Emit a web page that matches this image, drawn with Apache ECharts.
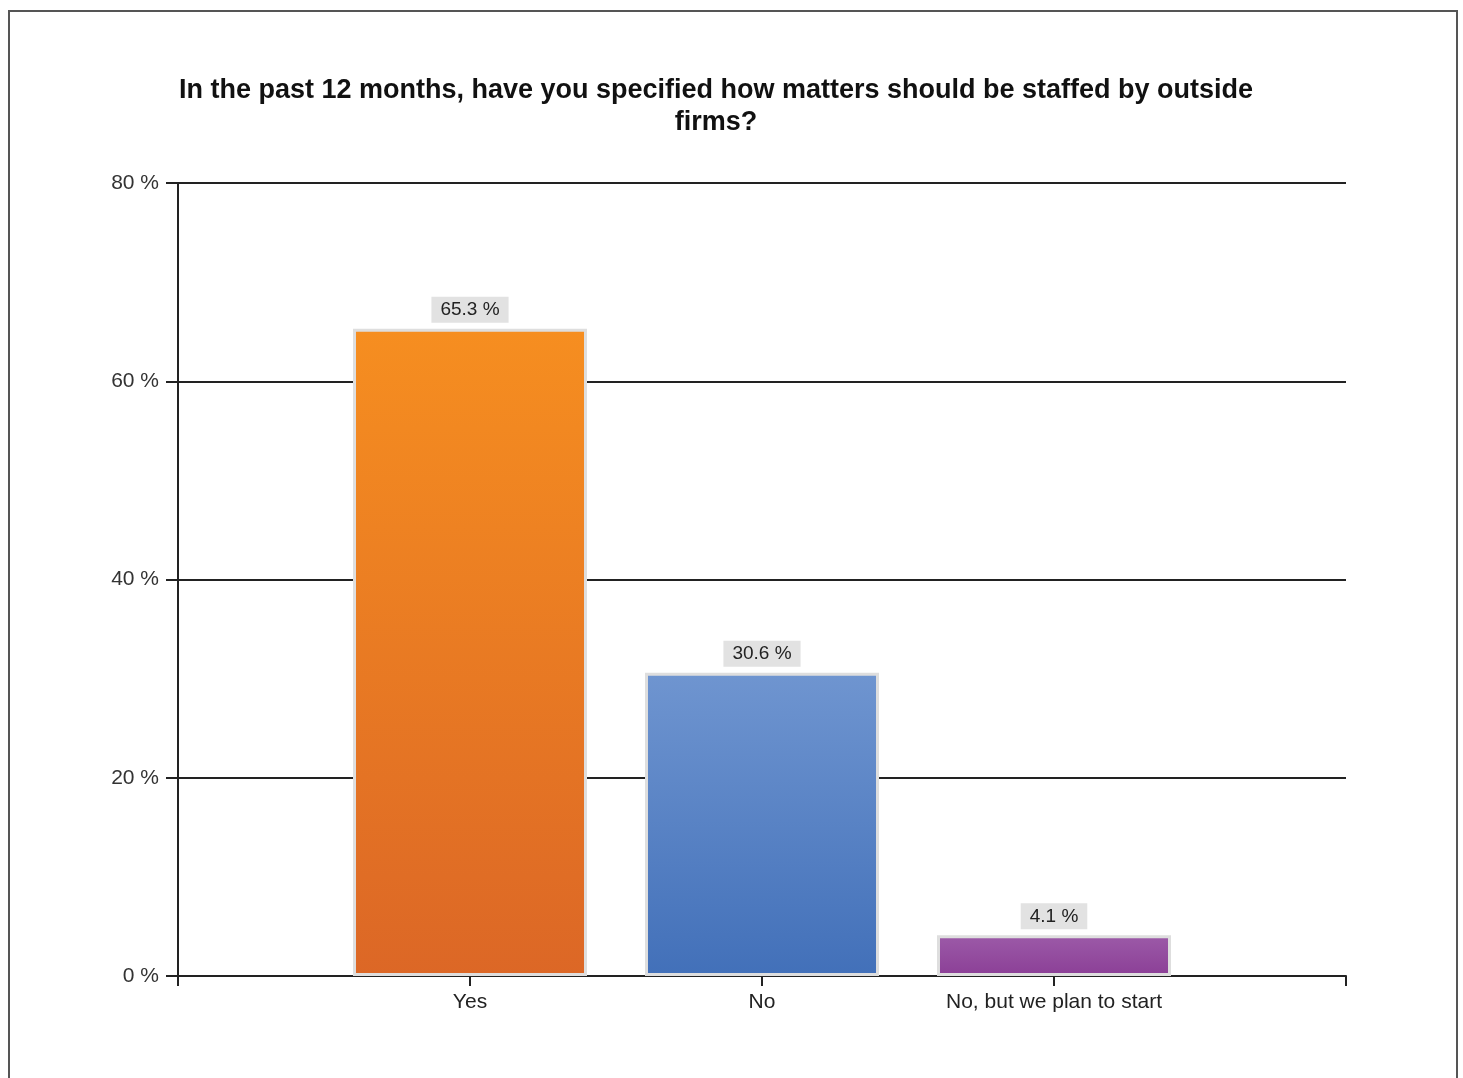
<!DOCTYPE html>
<html>
<head>
<meta charset="utf-8">
<script src="https://cdn.jsdelivr.net/npm/echarts@6/dist/echarts.min.js"></script>
<style>
  html, body { margin: 0; padding: 0; background: #fff; }
  #chart { width: 1463px; height: 1078px; }
</style>
</head>
<body>
<div id="chart"></div>
<script>
// categories (blank entries pad the ends so the bars sit on ticks)
var categories = ["", "Yes", "No", "No, but we plan to start", ""];
var values = [null, 65.3, 30.6, 4.1, null];
var yTicks = [0, 20, 40, 60, 80];

// gradient colours per bar, top -> bottom
var barColors = [
  null,
  ["#f68e20", "#dc6726"],
  ["#6f95d0", "#4270b9"],
  ["#9c5aa8", "#8b3f96"],
  null
];

var chart = echarts.init(document.getElementById("chart"));

var seriesData = values.map(function (v, i) {
  if (v == null) return null;
  return {
    value: v,
    itemStyle: {
      color: new echarts.graphic.LinearGradient(0, 0, 0, 1, [
        { offset: 0, color: barColors[i][0] },
        { offset: 1, color: barColors[i][1] }
      ])
    }
  };
});

chart.setOption({
  animation: false,
  backgroundColor: "#fff",
  textStyle: { fontFamily: "Liberation Sans, Arial, sans-serif" },
  graphic: [
    {
      type: "rect",
      shape: { x: 9, y: 11, width: 1448, height: 1100 },
      style: { fill: null, stroke: "#555", lineWidth: 2 },
      silent: true
    }
  ],
  title: {
    text: "In the past 12 months, have you specified how matters should be staffed by outside\nfirms?",
    left: 711,
    textAlign: "center",
    top: 70,
    textStyle: {
      fontSize: 27,
      fontWeight: "bold",
      color: "#111",
      lineHeight: 32,
      fontFamily: "Liberation Sans, Arial, sans-serif"
    }
  },
  grid: { left: 178, right: 117, top: 183, bottom: 102, containLabel: false },
  xAxis: {
    type: "category",
    data: categories,
    boundaryGap: false,
    axisLine: { show: true, lineStyle: { color: "#222", width: 2 } },
    axisTick: { show: true, length: 10, lineStyle: { color: "#222", width: 2 } },
    axisLabel: { color: "#222", fontSize: 21, margin: 16, interval: 0 },
    splitLine: { show: false }
  },
  yAxis: {
    type: "value",
    min: yTicks[0],
    max: yTicks[yTicks.length - 1],
    interval: 20,
    axisLine: { show: true, lineStyle: { color: "#222", width: 2 } },
    axisTick: { show: true, length: 12, lineStyle: { color: "#222", width: 2 } },
    axisLabel: { color: "#333", fontSize: 21, margin: 19, formatter: "{value} %" },
    splitLine: { show: true, lineStyle: { color: "#222", width: 2 } }
  },
  series: [
    {
      type: "bar",
      data: seriesData,
      barWidth: 234,
      itemStyle: { borderColor: "#dedede", borderWidth: 3 },
      label: {
        show: true,
        position: "top",
        distance: 6,
        formatter: "{c} %",
        color: "#222",
        fontSize: 19,
        backgroundColor: "#e2e2e2",
        padding: [4, 9, 3, 9]
      }
    }
  ]
});
</script>
</body>
</html>
